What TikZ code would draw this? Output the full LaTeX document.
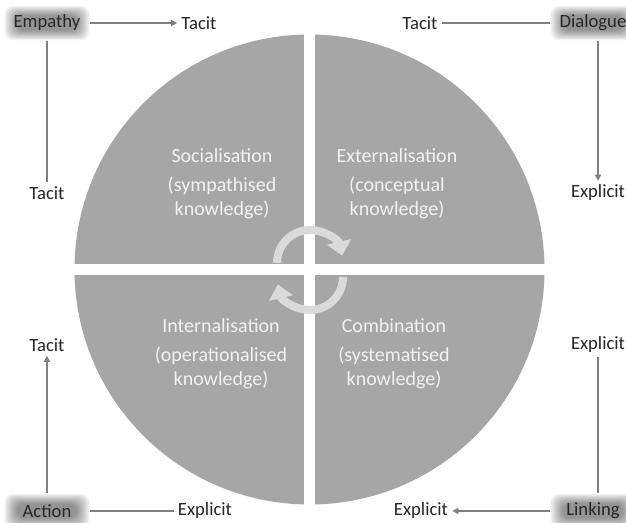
\documentclass[tikz,border=0pt]{standalone}
\usepackage{fontspec}
\setmainfont{Carlito}
\usetikzlibrary{arrows.meta}
\definecolor{quad}{HTML}{A6A6A6}
\definecolor{cyc}{HTML}{DADADA}
\definecolor{qtext}{HTML}{F2F2F2}
\definecolor{linkgray}{HTML}{808080}
\definecolor{ink}{HTML}{262626}

\begin{document}
\begin{tikzpicture}[x=0.75pt,y=-0.75pt,
  lbl/.style={font=\fontsize{14}{16}\selectfont, text=ink, inner sep=3pt},
  % soft-edged grey box behind the four corner labels
  glowbox/.style={lbl, minimum width=64pt, minimum height=26pt,
    path picture={
      \foreach \k in {0,...,15}
        \fill[black, opacity=0.03, rounded corners=6pt]
          ([xshift=\k*0.65pt, yshift=-\k*0.5pt]path picture bounding box.north west)
          rectangle
          ([xshift=-\k*0.65pt, yshift=\k*0.5pt]path picture bounding box.south east);
    }},
  qlbl/.style={font=\fontsize{15}{18}\selectfont, text=qtext, align=center, inner sep=0pt},
  link/.style={draw=linkgray, line width=1.5pt},
  tip/.style={-{Triangle[length=4.5pt,width=4.5pt]}},
  cycarrow/.style={draw=cyc, line width=6pt, -{Triangle[length=10.5pt,width=18pt]}}]
\useasboundingbox (0,0) rectangle (626,523);
\clip (0,0) rectangle (626,523);
\fill[white] (0,0) rectangle (626,523);

% the circle split into four quadrants
\fill[quad] (309.5,269.5) circle[radius=235];
\fill[white] (304,30) rectangle (315,510);
\fill[white] (70,264) rectangle (550,275);

% cycle arrows in the middle
\draw[cycarrow] (277,263) arc[start angle=180, end angle=347, radius=33];
\draw[cycarrow] (343,277) arc[start angle=0, end angle=167, radius=33];

% quadrant texts
\node[qlbl] (soc) at (222,184) {Socialisation\\[4pt](sympathised\\knowledge)};
\node[qlbl] (ext) at (397,184) {Externalisation\\[4pt](conceptual\\knowledge)};
\node[qlbl] (int) at (221,354) {Internalisation\\[4pt](operationalised\\knowledge)};
\node[qlbl] (com) at (394,354) {Combination\\[4pt](systematised\\knowledge)};

% corner labels
\node[glowbox] (emp) at (47,23) {Empathy};
\node[lbl] (tTL) at (199,23) {Tacit};
\node[lbl] (tTR) at (420,23) {Tacit};
\node[glowbox] (dia) at (593,23) {Dialogue};
\node[lbl] (tL) at (47,193) {Tacit};
\node[lbl] (eR) at (598,193) {Explicit};
\node[lbl] (tL2) at (47,345) {Tacit};
\node[lbl] (eR2) at (598,345) {Explicit};
\node[glowbox] (act) at (47,511) {Action};
\node[lbl] (eBL) at (205,511) {Explicit};
\node[lbl] (eBR) at (421,511) {Explicit};
\node[glowbox] (lnk) at (593,511) {Linking};

% connectors
\draw[link,tip] (emp) -- (tTL);
\draw[link] (emp) -- (tL);
\draw[link] (tTR) -- (dia);
\draw[link,tip] (dia.south -| eR) -- (eR);
\draw[link] (lnk.north -| eR2) -- (eR2);
\draw[link,tip] (lnk) -- (eBR);
\draw[link] (act) -- (eBL);
\draw[link,tip] (act) -- (tL2);
\end{tikzpicture}
\end{document}
